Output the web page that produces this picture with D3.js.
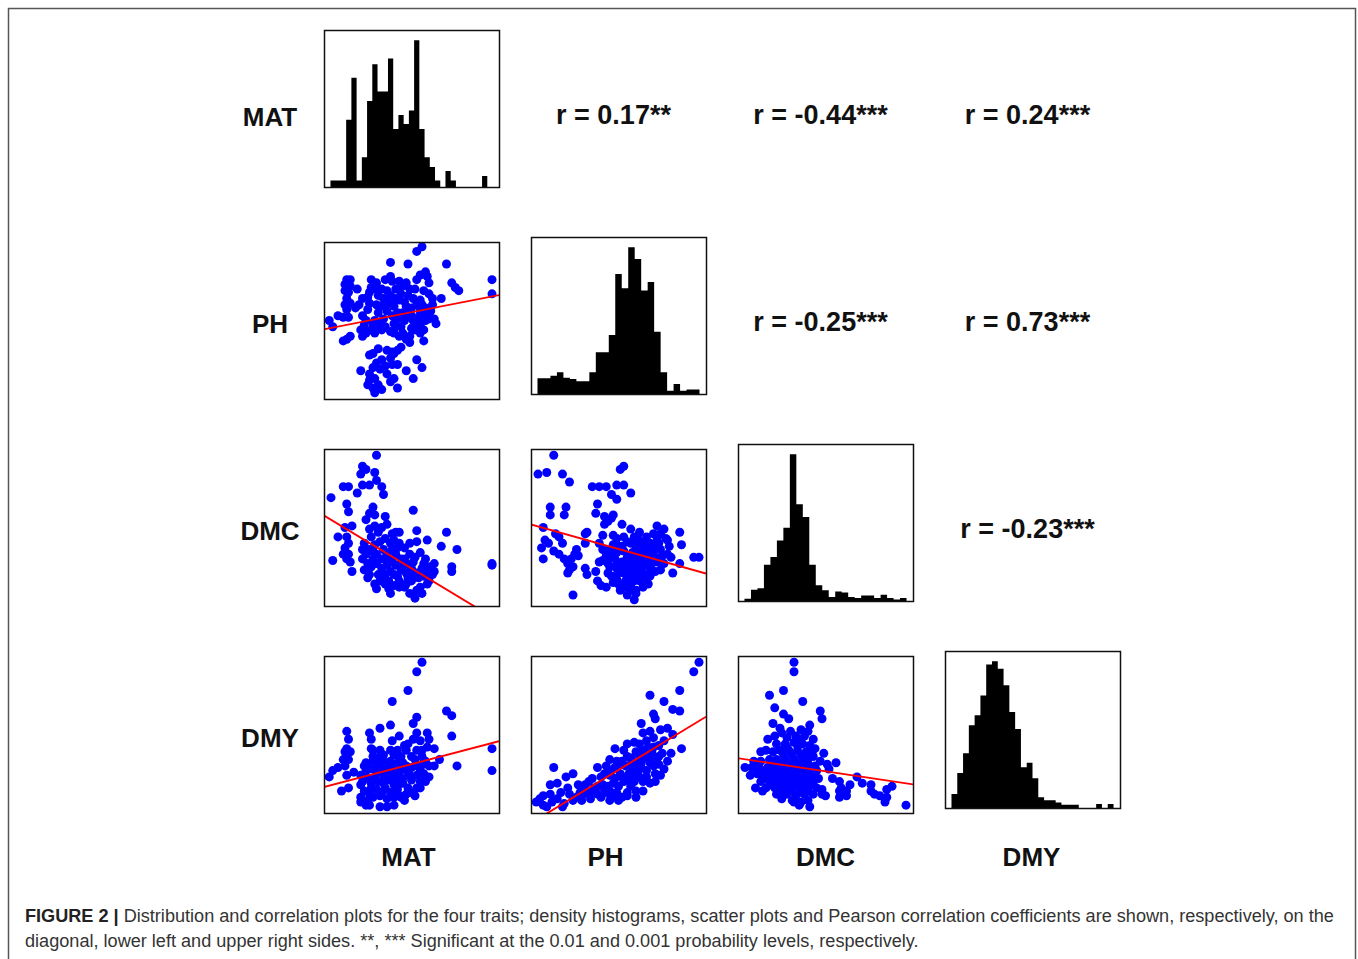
<!DOCTYPE html>
<html lang="en">
<meta charset="utf-8">

<head>
    <title>Distribution and correlation plots</title>
    <script src="https://d3js.org/d3.v7.min.js"></script>
    <style>
        body { margin: 0; background: #fff; }
    </style>
</head>

<body>
    <div id="plot"></div>
    <script>
        // traits on the diagonal
        var traits = ["MAT", "PH", "DMC", "DMY"];

        // density histograms, bar heights left to right
        var histMAT = [1.8, 1.8, 1.8, 18.5, 30, 1.8, 8.2, 23.6, 33.7, 26.2, 26.2, 35.3, 15.9, 19.8, 17.3, 21, 40.3, 15.9, 8.2, 5.5, 1.8, 0, 4.4, 1.8, 0, 0, 0, 0, 0, 3.0, 0];
        var histPH = [4.3, 4.3, 5, 5.9, 4.4, 4.1, 3.5, 3.5, 5.9, 11.4, 11.4, 16.1, 32.7, 28.8, 40, 36.8, 28.2, 30.5, 17, 5.9, 0.9, 2.7, 0.9, 1.2, 1.2];
        var histDMC = [0.6, 3.1, 3.5, 9.9, 12, 16.5, 20, 40, 26.4, 22.9, 9.9, 4.3, 2.9, 1.1, 2.6, 2.3, 1.1, 0.8, 1.5, 1.5, 0.8, 1.7, 0.8, 0.4, 0.8];
        var histDMY = [3.8, 9.5, 14.9, 22.5, 25.2, 30.6, 39, 39.9, 37.9, 33.4, 26.1, 21.5, 11.1, 12.3, 8.1, 2.9, 2.1, 2.1, 1.5, 0.9, 0.9, 0.9, 0, 0, 0, 1.1, 0, 1.1];

        // scatter points [x trait, y trait], each trait rescaled to 0-100
        var matPh = [[56,97],[53,94],[38,87],[48,86],[70,86],[58,81],[96,76],[73,74],[75,71],[77,69],[96,67],[67,64],[62,64],
            [13,76],[15,76],[12,73],[15,72],[12,69],[14,68],[13,64],[15,61],[12,60],[13,57],[14,52],[11,52],[8,53],[3,50],[5,46],[18,58],[15,40],[11,37],[13,38],
            [27,76],[27,71],[26,68],[25,65],[26,61],[25,57],[22,53],[24,50],[23,47],[24,42],[22,40],[27,44],[28,48],
            [35,76],[38,78],[39,75],[33,70],[36,69],[38,66],[34,64],[37,61],[33,59],[36,56],[34,51],[35,46],[38,43],[33,44],[40,42],[43,40],[40,48],
            [43,75],[47,74],[49,70],[53,76],[55,79],[59,78],[60,74],[44,67],[48,66],[51,64],[55,63],[53,60],[47,59],[45,55],[50,53],[55,56],[58,58],[43,63],[40,59],[58,50],[55,47],[57,44],[60,51],[63,51],[64,48],[60,67],[57,69],[49,40],[45,42],[47,38],[55,42],
            [30,60],[31,55],[29,50],[42,55],[46,50],[52,48],[50,58],[41,70],[45,72],[52,70],[31,66],[21,44],
            [30,70],[30,74],[31,45],[41,64],[42,51],[44,46],[46,62],[49,57],[51,50],[52,44],[54,52],[56,60],[58,54],[61,56],[62,60],[50,45],[47,52],[39,53],[36,64],[41,46],[32,48],[29,42],[22,64],[19,70],[20,60],
            [57,37],[44,33],[49,36],[31,32],[28,29],[26,28],[36,31],[39,30],[42,31],[33,25],[38,26],[30,23],[28,20],[26,16],[21,18],[32,19],[36,16],[29,13],[26,12],[25,9],[28,7],[31,9],[33,6],[29,4],[38,11],[40,13],[42,7],[47,18],[51,13],[42,22],[53,25],[56,20],[39,22],[35,21],[40,29]];

        var matDmc = [[30,96],[22,89],[24,87],[29,85],[21,84],[22,77],[26,77],[30,80],[33,76],[34,71],[11,76],[14,76],[19,72],[4,69],[13,65],[14,60],[51,61],
            [28,63],[26,59],[29,58],[24,55],[35,57],[36,52],[16,51],[12,50],[8,44],[26,49],[29,51],[33,50],[31,47],[41,47],[43,47],[53,48],[70,47],[59,42],[67,38],[76,36],[53,41],[49,40],
            [13,44],[14,40],[12,37],[14,33],[13,30],[15,28],[5,29],[16,22],[11,33],
            [23,40],[26,36],[22,30],[25,27],[23,23],[26,20],[25,18],[29,14],[32,16],[35,14],[37,11],[38,8],[40,13],[43,12],[47,14],[50,16],[53,10],[52,5],[55,12],[59,14],[60,16],[62,20],[63,27],[60,25],[58,30],[55,34],[52,31],[49,33],[46,37],[43,40],[40,42],[38,40],[35,43],[32,41],[29,39],[30,33],[33,30],[36,33],[39,36],[41,33],[44,30],[47,27],[50,24],[47,21],[44,23],[41,26],[39,28],[36,26],[33,24],[30,27],[28,30],[40,20],[38,22],[35,20],[43,16],[53,21],[56,24],[57,19],[51,20],[46,30],[27,44],[22,36],[39,46],
            [27,25],[31,20],[34,36],[37,30],[42,37],[45,25],[48,18],[51,28],[54,18],[57,27],[60,21],[34,17],[42,19],[46,12],[49,8],[56,8],[28,35],[24,33],[30,11],[37,16],
            [73,25],[73,22],[96,27],[96,26],[63,22]];

        var phDmc = [[13,96],[4,84],[9,85],[18,84],[22,79],[35,76],[39,76],[43,76],[49,77],[53,77],[51,87],[53,89],[46,71],[49,68],[57,72],
            [11,63],[11,58],[20,63],[19,58],[38,65],[37,59],[42,57],[47,58],[44,54],[46,56],
            [7,50],[8,42],[10,40],[6,37],[13,35],[14,46],[16,44],[18,40],[16,33],[19,30],[21,27],[23,30],[26,36],[27,32],[22,23],[21,21],[7,30],[31,46],[32,47],[31,40],[24,25],[25,33],[24,7],
            [42,52],[41,45],[47,45],[52,52],[57,49],[62,47],[72,51],[76,49],[85,47],[86,39],[93,31],[96,31],[85,27],[81,21],[78,42],[79,38],[80,31],
            [39,40],[41,36],[39,28],[37,22],[31,24],[32,20],[38,16],[40,13],[43,12],[46,19],[44,21],[49,20],[50,14],[51,10],[55,7],[59,4],[57,10],[60,10],[55,13],[59,16],[62,16],[65,20],[68,19],[71,22],[74,23],[76,27],[73,30],[70,33],[67,37],[64,40],[61,43],[59,44],[55,41],[52,38],[49,34],[46,31],[44,27],[48,25],[52,28],[55,31],[58,34],[60,38],[63,33],[66,30],[69,27],[65,26],[61,27],[59,24],[56,22],[53,21],[51,24],[55,27],[59,30],[62,29],[66,44],[70,46],[74,46],[77,43],[73,40],[74,36],[78,33],[71,40],[49,43],[53,44],[57,40],[47,39],[43,32],[41,29],[47,15],[63,23],[61,20],[57,20],[54,16],[64,12],[67,14],
            [45,25],[48,30],[50,38],[53,35],[56,18],[58,26],[60,33],[62,22],[64,27],[66,34],[68,40],[70,37],[72,28],[75,32],[63,37],[66,17],[53,12],[49,17],[57,14],[45,36],[72,44],[68,24],[60,8],[62,41],[54,25],[50,27]];

        var matDmy = [[56,96],[53,90],[48,78],[39,71],[70,65],[73,62],[53,61],[51,57],[38,56],[32,54],[13,52],[26,51],[59,51],[53,51],[43,49],[14,47],[27,47],[39,46],[73,49],[60,47],[55,46],[48,44],[63,41],[13,41],[12,39],[15,39],[27,41],[32,40],[38,40],[42,40],[47,40],[53,40],[59,42],[11,34],[14,34],[28,36],[34,37],[40,37],[44,36],[50,36],[56,36],[66,34],[96,41],[8,29],[5,27],[3,23],[12,30],[13,24],[17,26],[24,32],[26,28],[31,30],[36,30],[41,31],[47,30],[53,30],[60,30],[63,30],[76,30],[96,27],[21,24],[25,22],[29,23],[34,24],[39,25],[43,26],[48,26],[53,24],[57,25],[60,23],[10,14],[14,16],[21,18],[23,14],[26,12],[30,15],[35,16],[40,18],[44,19],[48,16],[53,16],[55,20],[21,10],[25,8],[28,10],[32,11],[36,9],[40,10],[43,11],[47,12],[52,11],[21,7],[26,5],[32,4],[40,5],[46,8],
            [22,20],[27,19],[31,20],[37,21],[41,22],[45,22],[50,21],[24,27],[29,28],[35,28],[40,28],[45,28],[50,29],[55,28],[38,13],[33,13],[42,15],[28,33],[45,32],[58,33],
            [23,30],[30,35],[38,33],[43,35],[52,34],[56,31],[49,24],[45,19],[40,14],[34,19],[27,16],[23,23],[31,26],[37,24],[55,16],[58,20],[50,13],[24,5],[36,4],[28,40],[46,43],[51,47],[56,40],[44,10],[34,33]];

        var phDmy = [[96,96],[93,90],[85,78],[68,75],[76,71],[81,66],[85,65],[70,63],[71,60],[63,57],[78,54],[74,53],[68,52],[64,51],[81,50],[86,41],[80,38],[48,41],[55,44],[59,45],[70,48],[66,46],[62,44],[76,46],[73,43],[53,40],[45,34],[49,33],[55,36],[60,39],[64,40],[69,39],[75,38],[78,33],[38,29],[13,29],[43,30],[48,29],[54,30],[59,31],[63,32],[68,32],[73,31],[76,28],[24,25],[20,23],[35,22],[40,23],[45,24],[51,25],[56,25],[61,26],[66,27],[71,25],[74,24],[71,20],[15,19],[11,18],[21,16],[27,18],[31,18],[36,16],[41,18],[47,19],[53,20],[59,20],[64,20],[68,19],[64,14],[7,11],[11,12],[17,13],[22,12],[28,13],[33,13],[38,12],[43,13],[49,13],[55,13],[60,14],[3,7],[7,5],[12,7],[19,6],[24,8],[29,8],[34,9],[40,10],[46,10],[52,10],[55,11],[60,10],[9,4],[18,4],
            [57,35],[62,36],[66,36],[52,33],[58,28],[44,17],[50,17],[33,20],[29,16],[66,23],[62,23],[57,17],[70,30],[72,35],[67,42],
            [30,12],[35,14],[38,17],[42,15],[45,14],[48,22],[52,23],[56,21],[58,24],[60,28],[63,29],[65,35],[68,36],[70,42],[73,36],[62,33],[57,31],[50,31],[46,27],[42,25],[26,10],[15,9],[5,9],[45,8],[50,8]];

        var dmcDmy = [[32,96],[32,90],[26,78],[18,75],[37,71],[21,67],[47,65],[48,60],[26,63],[29,60],[20,57],[24,54],[41,56],[30,52],[36,53],[40,52],[21,49],[28,48],[33,49],[38,49],[43,47],[17,47],[22,44],[27,44],[32,45],[37,44],[41,43],[44,41],[13,39],[16,40],[20,39],[24,40],[29,40],[34,40],[39,39],[49,38],[43,36],[9,33],[13,33],[18,34],[22,34],[27,34],[32,34],[37,34],[40,34],[47,33],[51,31],[56,32],[4,29],[8,29],[12,29],[17,29],[21,29],[26,29],[31,29],[36,29],[40,29],[44,30],[52,28],[7,24],[11,25],[16,24],[21,24],[25,24],[30,24],[35,24],[40,24],[44,24],[54,22],[58,20],[68,23],[64,18],[71,19],[76,18],[88,17],[85,15],[13,20],[18,20],[22,20],[27,20],[32,20],[37,20],[41,20],[59,16],[10,16],[16,16],[21,16],[26,16],[31,16],[36,15],[40,16],[45,16],[58,14],[62,14],[76,14],[78,12],[81,11],[85,10],[84,7],[22,12],[28,12],[33,11],[38,12],[43,12],[48,12],[50,11],[58,10],[62,11],[25,9],[31,8],[36,7],[40,8],[32,7],[35,5],[41,4],[96,5],[14,14],
            [15,27],[19,26],[24,27],[28,26],[33,27],[38,27],[42,26],[14,22],[19,22],[24,22],[29,22],[34,22],[39,22],[43,21],[18,18],[23,18],[28,18],[33,18],[38,18],[43,18],[25,14],[30,14],[35,13],[40,14],[20,31],[25,32],[30,32],[35,32],[40,31],[45,27],[26,37],[31,37],[36,37],[41,38],[28,42],[34,43],[25,51],[35,47],[46,22],[48,15]];

        // fitted lines: y at x = 0 and at x = 100
        var fitMatPh = [44.4, 66.2];
        var fitMatDmc = [57.7, -9.7];
        var fitPhDmc = [52.0, 20.7];
        var fitMatDmy = [16.5, 45.7];
        var fitPhDmy = [-6.4, 61.3];
        var fitDmcDmy = [34.9, 18.2];

        // upper right panels, read row by row
        var corrText = ["r = 0.17**", "r = -0.44***", "r = 0.24***", "r = -0.25***", "r = 0.73***", "r = -0.23***"];

        var captionLine1 = "Distribution and correlation plots for the four traits; density histograms, scatter plots and Pearson correlation coefficients are shown, respectively, on the";
        var captionLine2 = "diagonal, lower left and upper right sides. **, *** Significant at the 0.01 and 0.001 probability levels, respectively.";

        var width = 1358, height = 959;
        var left0 = 324, top0 = 35, step = 207;
        var boxW = 175, boxH = 157;
        var histShift = -5;
        var font = "'Liberation Sans', Arial, Helvetica, sans-serif";

        var svg = d3.select("#plot").append("svg")
            .attr("width", width)
            .attr("height", height);

        svg.append("rect").attr("width", width).attr("height", height).attr("fill", "#fff");

        // outer frame
        svg.append("rect")
            .attr("x", 8.5).attr("y", 8.5)
            .attr("width", 1347).attr("height", 1000)
            .attr("fill", "none")
            .attr("stroke", "#555")
            .attr("stroke-width", 1.5);

        function colX(c) { return left0 + c * step; }
        function rowY(r) { return top0 + r * step; }

        // histograms on the diagonal, one stepped shape each so bars don't show seams
        var histograms = [histMAT, histPH, histDMC, histDMY];
        histograms.forEach(function (counts, i) {
            var n = counts.length;
            var g = svg.append("g")
                .attr("transform", "translate(" + colX(i) + "," + (rowY(i) + histShift) + ")");
            var x = d3.scaleLinear().domain([-0.04 * n, 1.04 * n]).range([0, boxW]);
            var y = d3.scaleLinear().domain([0, d3.max(counts) * 1.07]).range([boxH, 0]);
            var steps = counts.concat([counts[n - 1]]);
            var area = d3.area()
                .curve(d3.curveStepAfter)
                .x(function (d, j) { return x(j); })
                .y0(y(0))
                .y1(function (d) { return y(d); });
            g.append("path")
                .datum(steps)
                .attr("d", area)
                .attr("fill", "#000");
            g.append("rect")
                .attr("x", 0.5).attr("y", 0.5)
                .attr("width", boxW).attr("height", boxH)
                .attr("fill", "none").attr("stroke", "#111").attr("stroke-width", 1.5);
        });

        // scatter plots, lower left
        var scatters = [
            { row: 1, col: 0, pts: matPh, fit: fitMatPh },
            { row: 2, col: 0, pts: matDmc, fit: fitMatDmc },
            { row: 2, col: 1, pts: phDmc, fit: fitPhDmc },
            { row: 3, col: 0, pts: matDmy, fit: fitMatDmy },
            { row: 3, col: 1, pts: phDmy, fit: fitPhDmy },
            { row: 3, col: 2, pts: dmcDmy, fit: fitDmcDmy }
        ];

        scatters.forEach(function (p, k) {
            var g = svg.append("g")
                .attr("transform", "translate(" + colX(p.col) + "," + rowY(p.row) + ")");
            var x = d3.scaleLinear().domain([0, 100]).range([0, boxW]);
            var y = d3.scaleLinear().domain([0, 100]).range([boxH, 0]);

            g.append("clipPath").attr("id", "clip" + k)
                .append("rect").attr("x", 1).attr("y", 1).attr("width", boxW - 1).attr("height", boxH - 1);

            var inner = g.append("g").attr("clip-path", "url(#clip" + k + ")");
            inner.selectAll("circle")
                .data(p.pts)
                .enter().append("circle")
                .attr("cx", function (d) { return x(d[0]); })
                .attr("cy", function (d) { return y(d[1]); })
                .attr("r", 4.5)
                .attr("fill", "#0000ff");

            inner.append("line")
                .attr("x1", x(0)).attr("y1", y(p.fit[0]))
                .attr("x2", x(100)).attr("y2", y(p.fit[1]))
                .attr("stroke", "#ff0000")
                .attr("stroke-width", 1.9);

            g.append("rect")
                .attr("x", 0.5).attr("y", 0.5)
                .attr("width", boxW).attr("height", boxH)
                .attr("fill", "none").attr("stroke", "#111").attr("stroke-width", 1.5);
        });

        // correlation coefficients, upper right
        var upper = [];
        for (var r = 0; r < 4; r++) {
            for (var c = r + 1; c < 4; c++) upper.push({ row: r, col: c });
        }
        svg.selectAll("text.corr")
            .data(upper)
            .enter().append("text")
            .attr("class", "corr")
            .attr("x", function (d) { return colX(d.col) + boxW / 2 - 5; })
            .attr("y", function (d) { return rowY(d.row) + boxH / 2 + 1 + 0.358 * 27; })
            .attr("text-anchor", "middle")
            .attr("font-family", font)
            .attr("font-weight", "bold")
            .attr("font-size", 27)
            .attr("fill", "#111")
            .text(function (d, i) { return corrText[i]; });

        // row labels
        svg.selectAll("text.rowlab")
            .data(traits)
            .enter().append("text")
            .attr("class", "rowlab")
            .attr("x", 270)
            .attr("y", function (d, i) { return rowY(i) + boxH / 2 + 3.5 + 0.358 * 26; })
            .attr("text-anchor", "middle")
            .attr("font-family", font)
            .attr("font-weight", "bold")
            .attr("font-size", 26)
            .attr("fill", "#111")
            .text(function (d) { return d; });

        // column labels
        var colNudge = [-3, -13, 0, -1];
        svg.selectAll("text.collab")
            .data(traits)
            .enter().append("text")
            .attr("class", "collab")
            .attr("x", function (d, i) { return colX(i) + boxW / 2 + colNudge[i]; })
            .attr("y", 857 + 0.358 * 26)
            .attr("text-anchor", "middle")
            .attr("font-family", font)
            .attr("font-weight", "bold")
            .attr("font-size", 26)
            .attr("fill", "#111")
            .text(function (d) { return d; });

        // caption
        var cap1 = svg.append("text")
            .attr("x", 25).attr("y", 922)
            .attr("font-family", font)
            .attr("font-size", 17)
            .attr("fill", "#333");
        cap1.append("tspan").attr("font-weight", "bold").attr("fill", "#222").text("FIGURE 2 | ");
        cap1.append("tspan").text(captionLine1);

        var cap2 = svg.append("text")
            .attr("x", 25).attr("y", 947)
            .attr("font-family", font)
            .attr("font-size", 17)
            .attr("fill", "#333")
            .text(captionLine2);

        // fit the first caption line to the frame width
        var len = cap1.node().getComputedTextLength();
        var fs = 17 * 1310 / len;
        cap1.attr("font-size", fs);
        cap2.attr("font-size", fs);
    </script>
</body>

</html>
